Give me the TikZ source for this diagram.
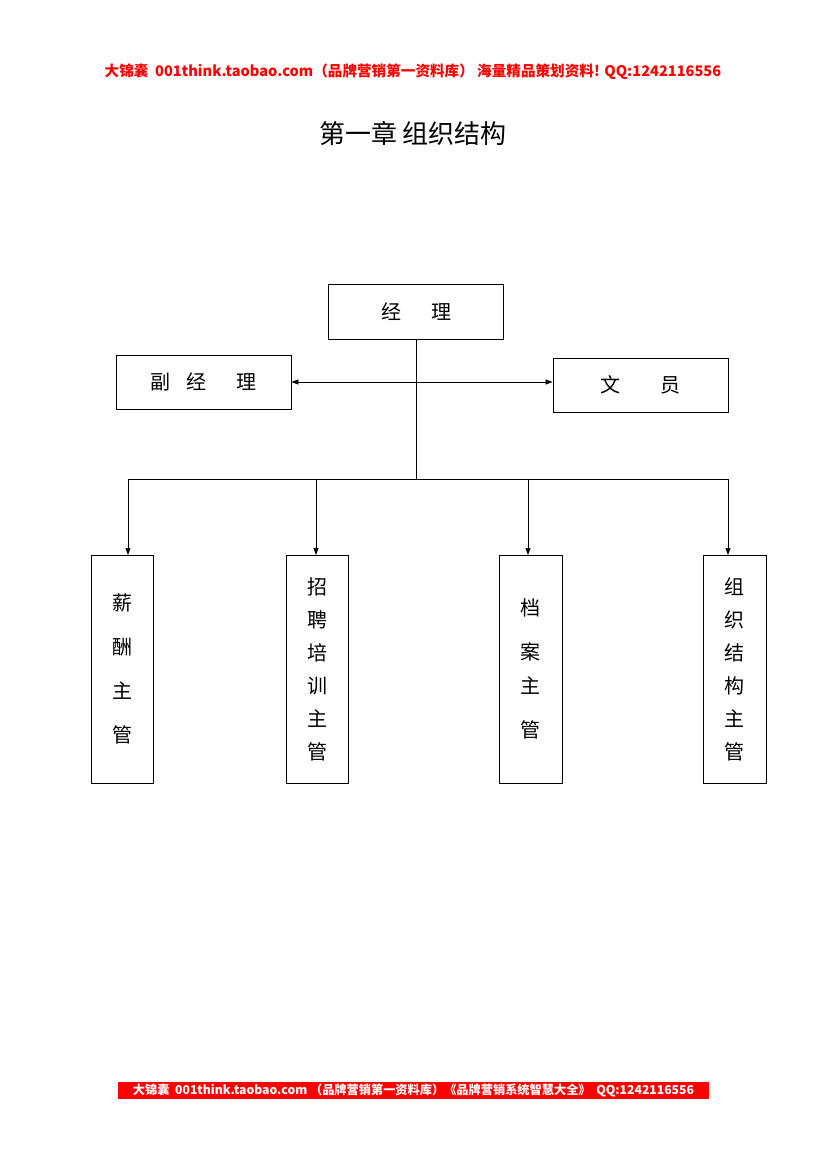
\documentclass[tikz,border=0pt]{standalone}
\usepackage{fontspec}
\setmainfont{Liberation Sans}
\newfontfamily\cjk{Noto Sans CJK SC}
\usetikzlibrary{arrows.meta}
\tikzset{box/.style={draw,line width=0.8pt,inner sep=0pt},
 lbl/.style={font=\cjk\fontsize{20}{20}\selectfont},
 vt/.style={font=\cjk\fontsize{20}{20}\selectfont,align=center},
 arr/.style={-{Triangle[length=7pt,width=5pt]},line width=0.6pt},
 ln/.style={line width=0.6pt}}
\begin{document}
\begin{tikzpicture}[x=1pt,y=-1pt]
\useasboundingbox (0,0) rectangle (827,1169);
\node[text=red,font=\cjk\bfseries\fontsize{14.6}{14.6}\selectfont] (hd) at (413,72) {大锦囊\ \ 001think.taobao.com（品牌营销第一资料库） 海量精品策划资料! QQ:1242116556};
\node[font=\cjk\fontsize{26}{26}\selectfont] (tt) at (413,133) {第一章\ 组织结构};
\node[box,minimum width=175pt,minimum height=55pt,lbl] (jl) at (416,311.5) {经\hspace{1.5em}理};
\node[box,minimum width=175pt,minimum height=54pt,lbl] (fj) at (203.5,382) {副\hspace{0.8em}经\hspace{1.5em}理};
\node[box,minimum width=175pt,minimum height=54pt,lbl] (wy) at (640.5,385) {文\hspace{2em}员};
\coordinate (j1) at (416,382);
\coordinate (j2) at (416,479);
\draw[ln] (jl.south) -- (j2);
\draw[arr] (j1) -- (j1 -| fj.east);
\draw[arr] (j1) -- (j1 -| wy.west);
\node[box,minimum width=62pt,minimum height=228pt,vt] (b1) at (122,669) {薪\\[24pt]酬\\[24pt]主\\[24pt]管};
\node[box,minimum width=62pt,minimum height=228pt,vt] (b2) at (317,669) {招\\[13pt]聘\\[13pt]培\\[13pt]训\\[13pt]主\\[13pt]管};
\node[box,minimum width=63pt,minimum height=228pt,vt] (b3) at (530.5,669) {档\\[24pt]案\\[14pt]主\\[24pt]管};
\node[box,minimum width=63pt,minimum height=228pt,vt] (b4) at (734.5,669) {组\\[13pt]织\\[13pt]结\\[13pt]构\\[13pt]主\\[13pt]管};
\coordinate (hl) at (128,479);
\coordinate (hr) at (728,479);
\draw[ln] (hl) -- (hr);
\draw[arr] (hl) -- (128,555);
\draw[arr] (316,479) -- (316,555);
\draw[arr] (528,479) -- (528,555);
\draw[arr] (hr) -- (728,555);
\node[fill=red,minimum width=591pt,minimum height=17pt,inner sep=0pt,text=white,font=\cjk\bfseries\fontsize{12.2}{12.2}\selectfont] (ft) at (413.5,1090.5) {大锦囊\ \ 001think.taobao.com （品牌营销第一资料库）《品牌营销系统智慧大全》\ \ QQ:1242116556};
\end{tikzpicture}
\end{document}
